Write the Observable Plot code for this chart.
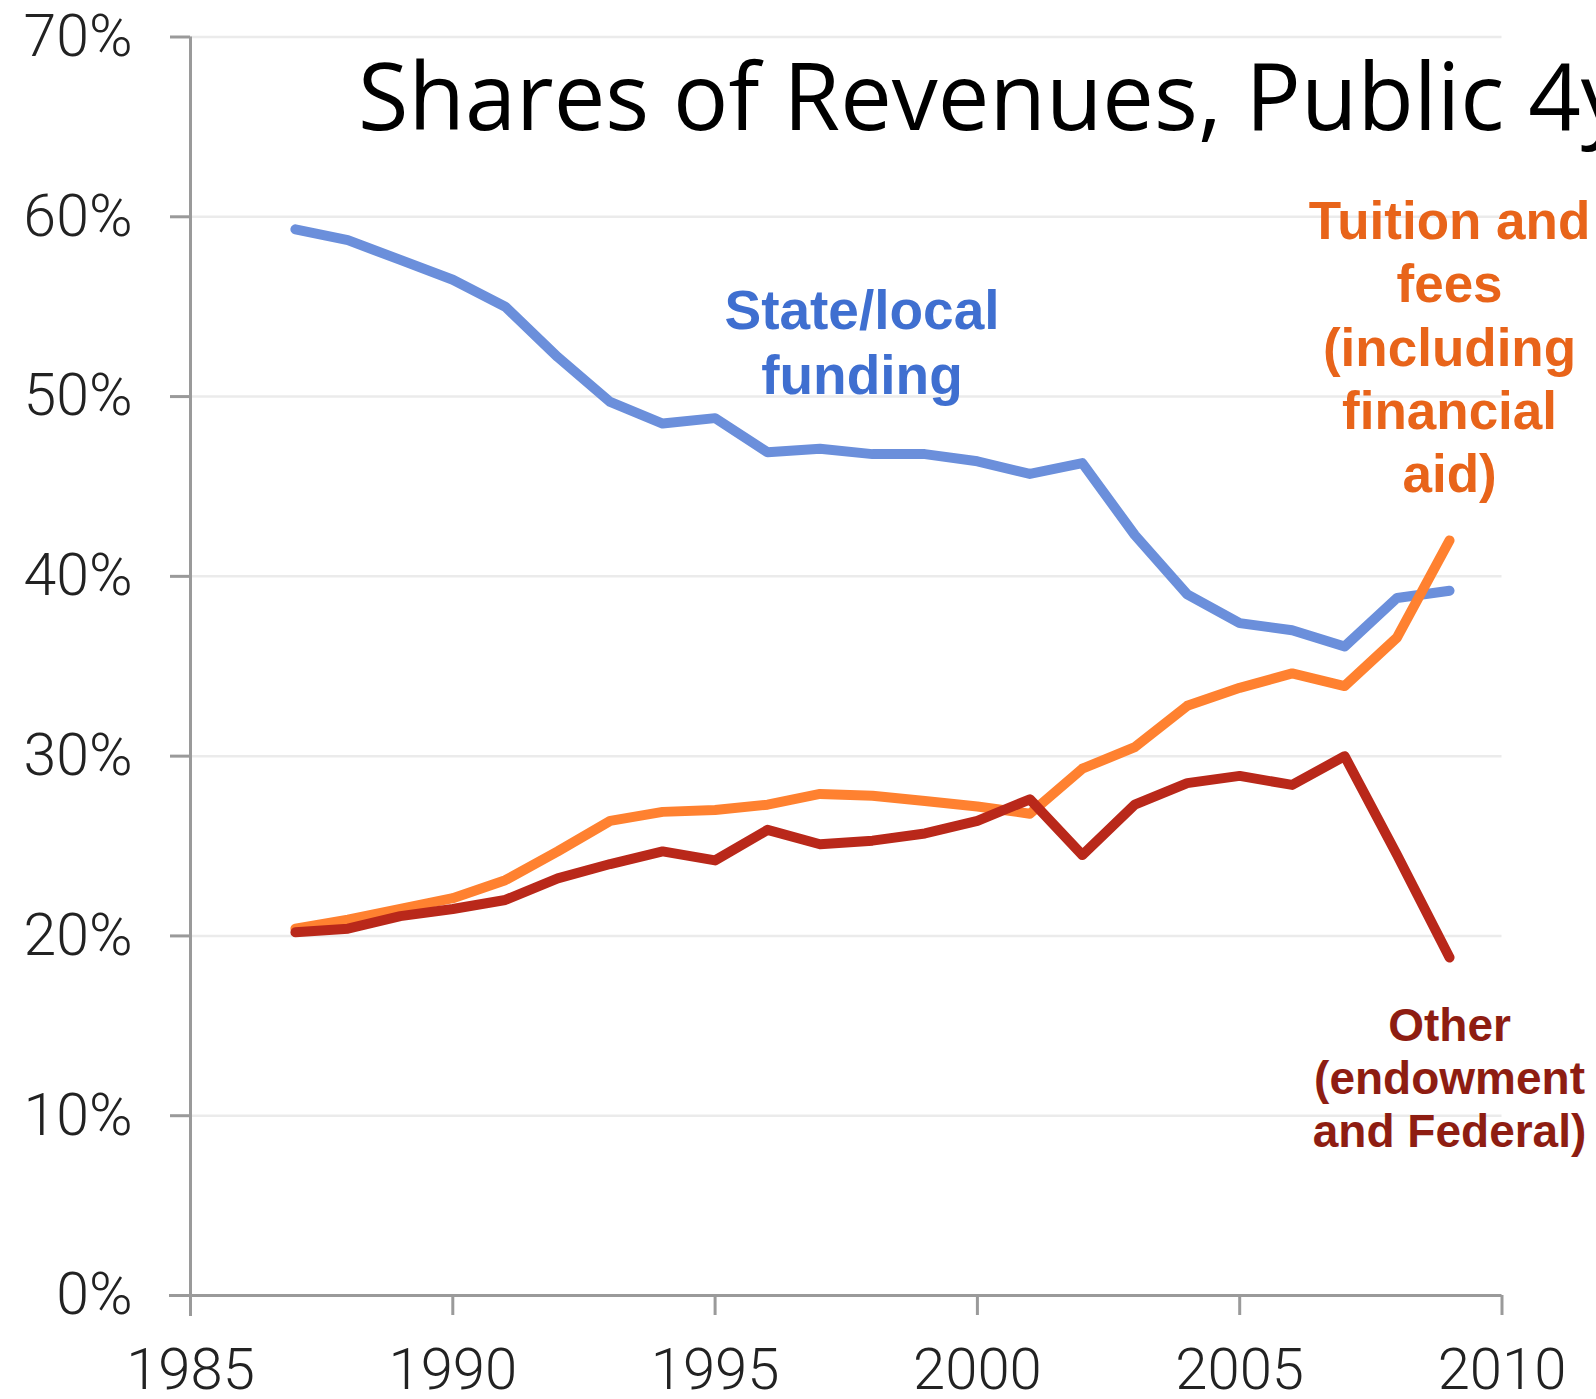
<!DOCTYPE html>
<html>
<head>
<meta charset="utf-8">
<script src="https://cdn.jsdelivr.net/npm/d3@7"></script>
<script src="https://cdn.jsdelivr.net/npm/@observablehq/plot@0.6"></script>
<style>
  html, body { margin: 0; padding: 0; background: #fff; overflow: hidden; }
  #chart { position: relative; width: 1596px; height: 1399px; overflow: hidden; }
</style>
</head>
<body>
<div id="chart"></div>
<script>
const titleText = "Shares of Revenues, Public 4yr Institutions";
const titleVisiblePart = "Shares of Revenues, Public 4";

const years = [1987, 1988, 1989, 1990, 1991, 1992, 1993, 1994, 1995, 1996, 1997, 1998,
               1999, 2000, 2001, 2002, 2003, 2004, 2005, 2006, 2007, 2008, 2009];

const stateLocal = [59.3, 58.7, 57.6, 56.5, 55.0, 52.2, 49.7, 48.5, 48.8, 46.9, 47.1, 46.8,
                    46.8, 46.4, 45.7, 46.3, 42.3, 39.0, 37.4, 37.0, 36.1, 38.8, 39.2];

const tuition = [20.4, 20.9, 21.5, 22.1, 23.1, 24.7, 26.4, 26.9, 27.0, 27.3, 27.9, 27.8,
                 27.5, 27.2, 26.8, 29.3, 30.5, 32.8, 33.8, 34.6, 33.9, 36.6, 42.0];

const other = [20.2, 20.4, 21.1, 21.5, 22.0, 23.2, 24.0, 24.7, 24.2, 25.9, 25.1, 25.3,
               25.7, 26.4, 27.6, 24.5, 27.3, 28.5, 28.9, 28.4, 30.0, 24.5, 18.8];

const yTicks = [0, 10, 20, 30, 40, 50, 60, 70];
const xTicks = [1985, 1990, 1995, 2000, 2005, 2010];

const seriesNames = ["State/local funding", "Tuition and fees", "Other"];
const labelTexts = ["State/local\nfunding", "Tuition and\nfees\n(including\nfinancial\naid)", "Other\n(endowment\nand Federal)"];
const labelX = [1997.8, 2009.0, 2009.0];
const labelY = [53.1, 52.85, 12.15];

const toRows = (vals) => years.map((yr, i) => ({year: yr, value: vals[i]}));

const axisFont = "Roboto, 'Liberation Sans', sans-serif";
const labelFont = "'Liberation Sans', Arial, sans-serif";

const plot = Plot.plot({
  width: 1596,
  height: 1399,
  marginLeft: 190,
  marginRight: 94.5,
  marginTop: 36.5,
  marginBottom: 104,
  style: {background: "#fff", fontFamily: axisFont, overflow: "visible"},
  x: {domain: [1985, 2010]},
  y: {domain: [0, 70]},
  marks: [
    Plot.ruleY(yTicks.filter(t => t > 0), {stroke: "#ebebeb", strokeWidth: 2.5}),
    Plot.axisY({
      ticks: yTicks, tickSize: 20, tickPadding: 38,
      tickFormat: d => d + "%", fontSize: 59, fontWeight: 300,
      stroke: "#9a9a9a", strokeWidth: 3, fill: "#222", label: null
    }),
    Plot.axisX({
      ticks: xTicks, tickSize: 20, tickPadding: 32,
      tickFormat: d3.format("d"), fontSize: 58, fontWeight: 300,
      stroke: "#9a9a9a", strokeWidth: 3, fill: "#222", label: null
    }),
    Plot.ruleX([1985], {y1: 70, y2: 0, stroke: "#9a9a9a", strokeWidth: 3, insetBottom: -21}),
    Plot.ruleY([0], {x1: 1985, x2: 2010, stroke: "#9a9a9a", strokeWidth: 3, insetLeft: -21}),
    Plot.lineY(toRows(stateLocal), {x: "year", y: "value", stroke: "#6b8fdb", strokeWidth: 10, strokeLinecap: "round", strokeLinejoin: "round"}),
    Plot.lineY(toRows(tuition), {x: "year", y: "value", stroke: "#ff8130", strokeWidth: 10, strokeLinecap: "round", strokeLinejoin: "round"}),
    Plot.lineY(toRows(other), {x: "year", y: "value", stroke: "#b9281a", strokeWidth: 10, strokeLinecap: "round", strokeLinejoin: "round"}),
    Plot.text([0], {x: labelX[0], y: labelY[0], text: () => labelTexts[0], fill: "#3f6fd0", fontSize: 55, fontWeight: "bold", fontFamily: labelFont, lineHeight: 1.17, textAnchor: "middle", lineAnchor: "middle"}),
    Plot.text([0], {x: labelX[1], y: labelY[1], text: () => labelTexts[1], fill: "#e8641a", fontSize: 53, fontWeight: "bold", fontFamily: labelFont, lineHeight: 1.19, textAnchor: "middle", lineAnchor: "middle"}),
    Plot.text([0], {x: labelX[2], y: labelY[2], text: () => labelTexts[2], fill: "#8e1d12", fontSize: 46, fontWeight: "bold", fontFamily: labelFont, lineHeight: 1.15, textAnchor: "middle", lineAnchor: "middle"})
  ]
});

document.getElementById("chart").appendChild(plot);

// Title overlay (partly cut off at the right edge, as in the reference)
const svg = d3.select(plot);
const title = svg.append("text")
  .attr("x", 0).attr("y", 0)
  .attr("text-anchor", "start")
  .attr("font-family", "'Open Sans', 'Noto Sans', sans-serif")
  .attr("font-size", 94)
  .attr("fill", "#000")
  .text(titleText);
const probe = svg.append("text")
  .attr("text-anchor", "start")
  .attr("font-family", "'Open Sans', 'Noto Sans', sans-serif")
  .attr("font-size", 94)
  .text(titleVisiblePart);
const w = probe.node().getComputedTextLength();
probe.remove();
const sx = 1223 / w;
title.attr("transform", `translate(358,130) scale(${sx},1)`);
</script>
</body>
</html>
